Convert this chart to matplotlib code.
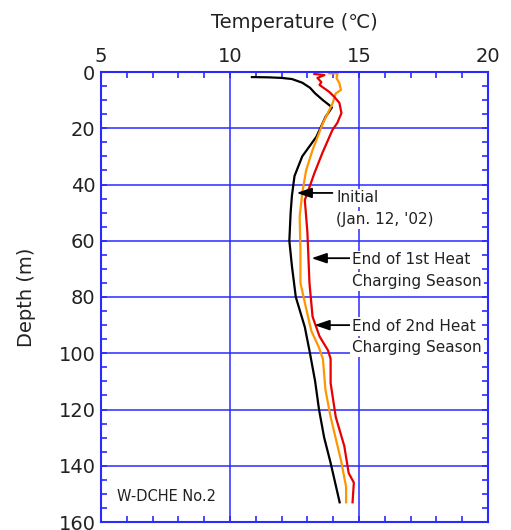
import matplotlib
matplotlib.use("Agg")
import matplotlib.pyplot as plt
from matplotlib.ticker import MultipleLocator

plt.rcParams['font.family'] = ['DejaVu Sans', 'Noto Sans CJK JP']

# Initial (Jan. 12, '02)
depth_init = [1.8, 1.9, 2.1, 2.5, 3.8, 5.6, 7.6, 10.0, 11.8, 12.6, 14.0, 16.0, 23.0, 30.0,
              37.0, 44.0, 50.0, 60.0, 69.0, 80.0, 90.7, 100.0, 110.0, 120.0, 130.0, 139.0,
              147.0, 153.0]
temp_init = [10.85, 11.5, 12.0, 12.4, 12.8, 13.1, 13.3, 13.6, 13.85, 13.95, 13.85, 13.7, 13.35,
             12.8, 12.5, 12.4, 12.35, 12.3, 12.4, 12.55, 12.9, 13.1, 13.3, 13.45, 13.65, 13.9,
             14.1, 14.25]

# end of 1st heat charging season (orange)
depth_1st = [0.5, 0.5, 2.2, 4.0, 6.4, 7.6, 8.8, 11.1, 13.5, 18.2, 27.7, 35.0, 43.0, 51.5,
             63.0, 75.0, 82.0, 92.0, 98.0, 102.0, 113.0, 122.7, 138.0, 147.5, 153.0]
temp_1st = [13.85, 14.17, 14.13, 14.24, 14.3, 14.1, 14.05, 13.98, 13.85, 13.6, 13.2, 12.95,
            12.8, 12.7, 12.73, 12.73, 12.9, 13.15, 13.45, 13.6, 13.7, 13.9, 14.3, 14.5, 14.5]

# end of 2nd heat charging season (red)
depth_2nd = [0.7, 1.1, 2.1, 3.6, 4.6, 7.1, 8.9, 11.0, 14.6, 18.1, 20.6, 28.8, 36.0, 43.0,
             45.5, 57.0, 75.0, 87.0, 94.0, 99.0, 102.0, 110.6, 122.7, 133.0, 142.6, 146.0,
             153.0]
temp_2nd = [13.27, 13.66, 13.39, 13.54, 13.47, 13.85, 14.05, 14.24, 14.32, 14.16, 13.97, 13.58,
            13.27, 13.0, 12.9, 13.0, 13.08, 13.2, 13.47, 13.8, 13.9, 13.9, 14.1, 14.43, 14.6,
            14.8, 14.75]

blue = '#2a2aff'
txt = '#222222'

fig = plt.figure(figsize=(5.11, 5.30), dpi=100)
ax = fig.add_axes([101 / 511, 8 / 530, 387 / 511, 450 / 530])

ax.plot(temp_init, depth_init, color='black', lw=1.6)
ax.plot(temp_1st, depth_1st, color='#ff9500', lw=1.6)
ax.plot(temp_2nd, depth_2nd, color='#e80000', lw=1.6)

ax.set_xlim(5, 20)
ax.set_ylim(160, 0)
ax.xaxis.set_major_locator(MultipleLocator(5))
ax.xaxis.set_minor_locator(MultipleLocator(1))
ax.yaxis.set_major_locator(MultipleLocator(20))
ax.yaxis.set_minor_locator(MultipleLocator(5))
ax.xaxis.tick_top()
ax.xaxis.set_label_position('top')
ax.tick_params(which='both', direction='in', top=True, bottom=True, left=True, right=True,
               color=blue, width=1.2, length=4.5, labelsize=14, labelcolor=txt)
ax.tick_params(axis='x', pad=4)
ax.tick_params(axis='y', pad=4)
for s in ax.spines.values():
    s.set_color(blue)
    s.set_linewidth(1.5)
ax.grid(True, which='major', color=blue, lw=1.1)
ax.set_axisbelow(True)

ax.set_xlabel('Temperature (℃)', fontsize=14, color=txt, labelpad=14)
ax.set_ylabel('Depth (m)', fontsize=14, color=txt, labelpad=16)

box = dict(boxstyle='square,pad=0.12', fc='white', ec='none')
arrow = dict(arrowstyle='-|>,head_length=0.65,head_width=0.22', color='black', lw=1.3,
             mutation_scale=14, shrinkA=0, shrinkB=0)
fs = 11

ax.annotate('', xy=(12.58, 43.0), xytext=(13.97, 43.0), arrowprops=arrow)
ax.text(14.12, 44.8, 'Initial', fontsize=fs, color=txt, va='center', ha='left', bbox=box)
ax.text(14.12, 52.6, "(Jan. 12, '02)", fontsize=fs, color=txt, va='center', ha='left', bbox=box)

ax.annotate('', xy=(13.16, 66.2), xytext=(14.72, 66.2), arrowprops=arrow)
ax.text(14.74, 66.8, 'End of 1st Heat', fontsize=fs, color=txt, va='center', ha='left', bbox=box)
ax.text(14.74, 74.6, 'Charging Season', fontsize=fs, color=txt, va='center', ha='left', bbox=box)

ax.annotate('', xy=(13.27, 90.0), xytext=(14.72, 90.0), arrowprops=arrow)
ax.text(14.74, 90.5, 'End of 2nd Heat', fontsize=fs, color=txt, va='center', ha='left', bbox=box)
ax.text(14.74, 97.9, 'Charging Season', fontsize=fs, color=txt, va='center', ha='left', bbox=box)

ax.text(5.62, 151.0, 'W-DCHE No.2', fontsize=10.5, color=txt, va='center', ha='left')

fig.savefig('out.png', dpi=100)
